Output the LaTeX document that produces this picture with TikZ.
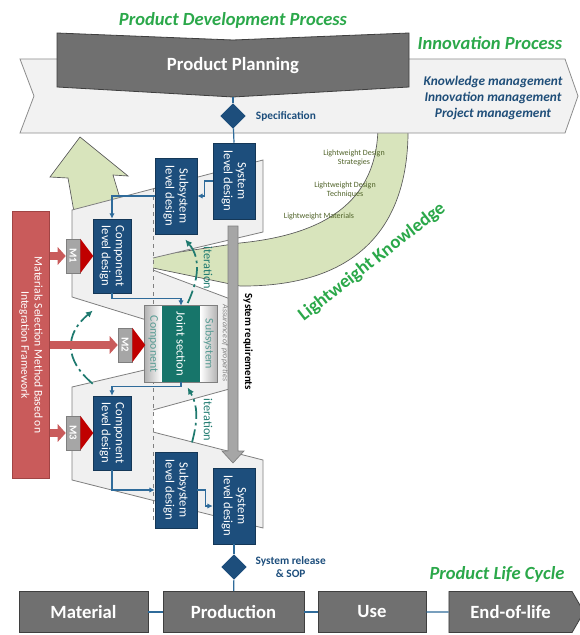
\documentclass[tikz,border=0pt]{standalone}
\usepackage{fontspec}
\setmainfont{Carlito}
\usetikzlibrary{positioning,shapes.geometric,shapes.symbols,arrows.meta}
\definecolor{titlegreen}{HTML}{2BA84A}
\definecolor{bandfill}{HTML}{F2F2F2}
\definecolor{bandedge}{HTML}{8C8C8C}
\definecolor{boxgrey}{HTML}{707070}
\definecolor{boxgreyedge}{HTML}{3F3F3F}
\definecolor{levelblue}{HTML}{1D4E7C}
\definecolor{linkblue}{HTML}{2F6B9A}
\definecolor{jointteal}{HTML}{17756A}
\definecolor{iterteal}{HTML}{1F7A6F}
\definecolor{matred}{HTML}{C95B5B}
\definecolor{matrededge}{HTML}{A04444}
\definecolor{tipred}{HTML}{C00000}
\definecolor{mgrey}{HTML}{A6A6A6}
\definecolor{lwgreen}{HTML}{D8E4BC}
\definecolor{lwtext}{HTML}{4F6228}
\definecolor{panelfill}{HTML}{F0F0F0}
\definecolor{paneledge}{HTML}{7F7F7F}
\definecolor{mgmtblue}{HTML}{1F4E79}
\tikzset{
  heading/.style={font=\fontsize{13.9}{15}\selectfont\bfseries\itshape, text=titlegreen},
  phasebox/.style={draw=boxgreyedge, fill=boxgrey, text=white, line width=0.6pt,
                   font=\fontsize{14}{16}\selectfont\bfseries, minimum height=30.75pt, inner sep=0pt},
  levelbox/.style={draw=levelblue!70!black, fill=levelblue, text=white, rotate=-90, align=center,
                   minimum width=57pt, minimum height=31.5pt, inner sep=1pt,
                   font=\fontsize{9.5}{10.5}\selectfont},
  compbox/.style={levelbox, minimum width=55.5pt, minimum height=28.5pt},
  gate/.style={diamond, fill=levelblue, inner sep=0pt, minimum width=19pt, minimum height=19pt},
  gatelabel/.style={text=levelblue, align=center, font=\fontsize{8.5}{10}\selectfont\bfseries},
  link/.style={draw=linkblue, line width=0.9pt},
  flow/.style={link, -{Latex[length=4pt,width=4pt]}},
  iterarc/.style={draw=iterteal, line width=1.3pt, dash pattern=on 10pt off 3pt on 2pt off 3pt,
                  -{Latex[length=5pt,width=5pt]}},
  iterlabel/.style={text=iterteal, rotate=-90, font=\fontsize{9.2}{10}\selectfont},
  mbox/.style={draw=paneledge, fill=mgrey, text=white, rotate=-90, minimum width=25.5pt,
               minimum height=10.5pt, inner sep=0pt, font=\fontsize{8}{9}\selectfont\bfseries},
  redarrow/.style={draw=matred, line width=6.5pt, -{Triangle[length=6pt,width=13pt]}},
  lwnote/.style={text=lwtext, align=center, font=\fontsize{6}{7}\selectfont},
  striplabel/.style={text=iterteal!75, rotate=-90, font=\fontsize{8.8}{10}\selectfont},
}

\begin{document}
\begin{tikzpicture}[x=0.75pt, y=-0.75pt]
  \useasboundingbox (0,0) rectangle (579,635);

  % lightweight knowledge loop (sits behind the rest)
  \draw[draw=black!65, fill=lwgreen, line width=0.5pt]
    (80,137) -- (128,176) -- (113,175) -- (122,205) -- (140,240) -- (153,256) -- (240,243)
    .. controls (320,235) and (378,205) .. (378,125) -- (408,125)
    .. controls (410,232) and (352,287) .. (240,286) -- (153,268) -- (90,250) -- (74,212)
    -- (68,178) -- (50,177) -- cycle;

  % innovation process band
  \draw[draw=bandedge, fill=bandfill, line width=0.6pt]
    (20,59) -- (565,59) -- (578,96) -- (565,133) -- (20,133) -- (34,96) -- cycle;
  \node[heading] (pdp) at (233,20) {Product Development Process};
  \node[heading] (innov) at (490,43) {Innovation Process};
  \node[text=mgmtblue, align=center, font=\fontsize{10}{12}\selectfont\bfseries\itshape] (mgmt)
    at (493,98) {Knowledge management\\Innovation management\\Project management};

  % product planning
  \draw[draw=boxgreyedge, fill=boxgrey, line width=0.6pt]
    (57,33) -- (233,40) -- (409,33) -- (409,87) -- (233,97) -- (57,87) -- cycle;
  \node[text=white, font=\fontsize{14}{16}\selectfont\bfseries] (plan) at (233,66) {Product Planning};
  \coordinate (planbot) at (233,97);

  % V-model panels
  \fill[panelfill] (72,210) -- (263,160) -- (263,232) -- (153,258) -- (153,322) -- (72,297) -- cycle;
  \draw[paneledge, line width=0.6pt] (153,258) -- (263,232) -- (263,160) -- (72,210) -- (72,297) -- (153,322);
  \fill[panelfill] (153,270) -- (233,300) -- (233,388) -- (153,410) -- cycle;
  \draw[paneledge, line width=0.6pt] (153,270) -- (233,300) -- (233,388) -- (153,410);
  \fill[panelfill] (72,387) -- (153,368) -- (153,432) -- (263,460) -- (263,528) -- (72,480) -- cycle;
  \draw[paneledge, line width=0.6pt] (153,368) -- (72,387) -- (72,480) -- (263,528) -- (263,460) -- (153,432);
  \draw[paneledge, dashed] (153,188) -- (153,520);

  % system requirements
  \draw[draw=paneledge, fill=mgrey, line width=0.5pt]
    (228,226) -- (238,226) -- (238,451) -- (244,451) -- (233,463) -- (222,451) -- (228,451) -- cycle;
  \node[rotate=-90, font=\fontsize{8.2}{9}\selectfont\bfseries] (sysreq) at (248,342) {System requirements};
  \node[rotate=-90, text=black!50, font=\fontsize{6}{7}\selectfont\itshape] (assur) at (225,343) {Assurance of properties};

  \node[lwnote] (lwstrat) at (354,158) {Lightweight Design\\Strategies};
  \node[lwnote] (lwtech) at (345,190) {Lightweight Design\\Techniques};
  \node[lwnote] (lwmat) at (319,216) {Lightweight Materials};
  \node[rotate=38, text=titlegreen, font=\fontsize{14}{16}\selectfont\bfseries] (lwk) at (372,262) {Lightweight Knowledge};

  % design levels
  \node[levelbox] (sys1) at (234,181) {System\\level design};
  \node[levelbox] (sub1) at (176,196) {Subsystem\\level design};
  \node[compbox] (comp1) at (112,256) {Component\\level design};
  \node[compbox] (comp2) at (112,433) {Component\\level design};
  \node[levelbox] (sub2) at (176,490) {Subsystem\\level design};
  \node[levelbox] (sys2) at (234,506) {System\\level design};

  % joint section
  \node[minimum width=54pt, minimum height=57pt, inner sep=0pt] (joint) at (181,344) {};
  \shade[left color=black!30, right color=white] (joint.north west) rectangle ([xshift=12.75pt]joint.south west);
  \shade[left color=white, right color=black!30] ([xshift=-12.75pt]joint.north east) rectangle (joint.south east);
  \node[rotate=-90, fill=jointteal, text=white, minimum width=57pt, minimum height=28.5pt, inner sep=0pt,
        font=\fontsize{9.5}{10}\selectfont] (jsec) at (joint.center) {Joint section};
  \node[striplabel] (jcomp) at ([xshift=6.4pt]joint.west) {Component};
  \node[striplabel] (jsub) at ([xshift=-6.4pt]joint.east) {Subsystem};
  \draw[paneledge, line width=0.6pt] (joint.north west) rectangle (joint.south east);

  % iterations
  \draw[iterarc] ([xshift=5pt,yshift=2pt]joint.north) to[out=65, in=-50] ([xshift=7pt,yshift=-4pt]sub1.east);
  \draw[iterarc] ([yshift=9pt]comp2.south west) to[out=140, in=-140, looseness=1.3] ([yshift=-13pt]comp1.south east);
  \draw[iterarc] ([xshift=12pt,yshift=7pt]sub2.west) to[out=75, in=-60] ([xshift=5pt,yshift=-4pt]joint.south);
  \node[iterlabel] (iterA) at (208,268) {iteration};
  \node[iterlabel] (iterB) at (208,420) {iteration};

  % materials selection
  \node[draw=matrededge, fill=matred, text=white, rotate=-90, align=center, minimum width=200pt,
        minimum height=27.75pt, inner sep=1pt, font=\fontsize{8.7}{10}\selectfont] (matsel)
    at (31,345) {Materials Selection Method Based on\\Integration Framework};
  \node[mbox] (m1) at (73,256) {M1};
  \node[mbox] (m2) at (125,345) {M2};
  \node[mbox] (m3) at (73,433) {M3};
  \fill[tipred] (m1.north west) -- (m1.north east) -- ([xshift=9.75pt]m1.north) -- cycle;
  \fill[tipred] (m2.north west) -- (m2.north east) -- ([xshift=9.75pt]m2.north) -- cycle;
  \fill[tipred] (m3.north west) -- (m3.north east) -- ([xshift=9.75pt]m3.north) -- cycle;
  \draw[redarrow] (matsel.north |- m1.south) -- (m1.south);
  \draw[redarrow] (matsel.north) -- (m2.south);
  \draw[redarrow] (matsel.north |- m3.south) -- (m3.south);

  % gates
  \node[gate] (spec) at (233,116) {};
  \node[gatelabel, right=4pt of spec] (speclbl) {Specification};
  \node[gate] (relsop) at (234,567) {};
  \node[gatelabel, right=3pt of relsop] (rellbl) {System release\\\& SOP};

  % flow between levels
  \draw[link] (planbot) -- (spec);
  \draw[link] (spec) -- (sys1.west);
  \draw[flow] (sys1.south) -- ++(-8,0) |- (sub1.north);
  \draw[flow] (sub1.south) -| (comp1.west);
  \draw[flow] (comp1.east) -- ++(0,5) -| (joint.north);
  \draw[flow] (joint.south) -- ++(0,4) -| (comp2.west);
  \draw[flow] (comp2.east) |- (sub2.south);
  \draw[flow] (sub2.north) -- ++(8,0) |- (sys2.south);
  \draw[link] (sys2.east) -- (relsop);

  % product life cycle
  \node[heading] (plc) at (497,574) {Product Life Cycle};
  \node[phasebox, minimum width=96.75pt] (mat) at (83.5,612) {Material};
  \node[phasebox, minimum width=105.75pt] (prod) at (233.5,612) {Production};
  \node[phasebox, minimum width=81pt] (usep) at (372,612) {Use};
  \node[phasebox, signal, signal to=east, signal pointer angle=120, minimum width=101.25pt] (eol)
    at (510.5,612) {End-of-life};
  \draw[link] (relsop) -- (prod);
  \draw[link] (mat) -- (prod);
  \draw[link] (prod) -- (usep);
  \draw[link] (usep) -- (eol);
\end{tikzpicture}
\end{document}
